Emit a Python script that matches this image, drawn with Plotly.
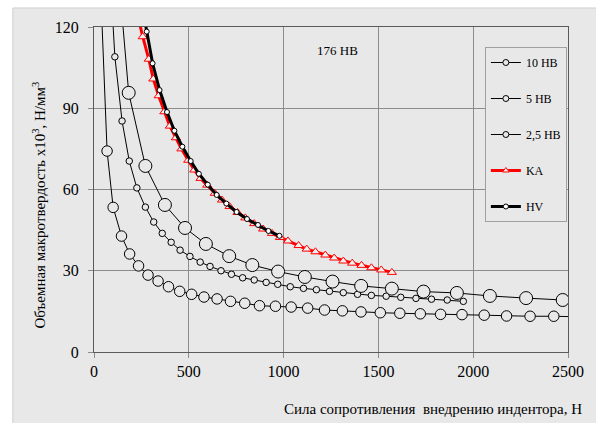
import plotly.graph_objects as go

# ---- data ----
hb10_x = [110, 183, 271, 374, 480, 590, 713, 835, 971, 1112, 1258, 1409, 1571, 1738, 1914, 2088, 2279, 2472]
hb10_y = [155, 95.7, 68.7, 54.3, 45.8, 39.9, 35.4, 32.1, 29.7, 27.7, 26.0, 24.4, 23.4, 22.3, 21.8, 20.7, 19.9, 19.2]

hb5_x = [75, 110, 148, 186, 226, 271, 315, 360, 407, 454, 506, 560, 612, 670, 725, 784, 845, 908, 969,
         1035, 1105, 1173, 1242, 1315, 1390, 1463, 1541, 1618, 1698, 1780, 1863, 1948]
hb5_y = [152, 109.0, 85.3, 70.5, 60.6, 53.5, 48.0, 43.8, 40.5, 37.6, 35.3, 33.2, 31.6, 30.0, 28.7, 27.4,
         26.6, 25.7, 25.0, 24.1, 23.5, 23.0, 22.4, 21.9, 21.3, 20.9, 20.6, 20.2, 19.8, 19.5, 19.2, 18.7]

hb25_x = [35, 69, 101, 145, 188, 235, 285, 338, 393, 452, 515, 580, 649, 720, 795, 873, 957, 1040, 1127,
          1216, 1310, 1408, 1510, 1613, 1721, 1828, 1941, 2058, 2176, 2300, 2425, 2550]
hb25_y = [134, 74.2, 53.4, 42.8, 36.2, 31.8, 28.4, 26.2, 24.1, 22.4, 21.3, 20.3, 19.6, 18.7, 18.0, 17.1,
          16.9, 16.6, 16.2, 15.5, 15.2, 14.8, 14.5, 14.3, 14.1, 13.9, 13.8, 13.6, 13.3, 13.2, 13.2, 13.0]

ka_x = [235, 257, 289, 313, 341, 371, 400, 432, 461, 497, 529, 562, 597, 637, 675, 715, 757, 798, 845,
        892, 939, 981, 1023, 1079, 1122, 1168, 1220, 1267, 1315, 1362, 1411, 1463, 1515, 1571]
ka_y = [123, 116.4, 108.1, 100.8, 94.6, 88.7, 83.4, 79.1, 75.0, 70.8, 67.2, 64.1, 61.6, 58.6, 56.1, 53.7,
        51.5, 49.5, 47.4, 45.4, 43.8, 42.3, 41.0, 39.3, 38.0, 37.0, 35.8, 34.7, 33.6, 32.8, 32.0, 31.1,
        30.3, 29.4]

hv_x = [248, 278, 309, 346, 385, 424, 466, 510, 553, 600, 647, 698, 752, 807, 865, 920, 978]
hv_y = [130, 118.3, 106.6, 96.7, 88.6, 81.7, 75.8, 70.5, 65.8, 61.8, 58.0, 54.8, 51.7, 49.1, 46.9, 44.7, 42.9]

legend_names = ["10 HB", "5 HB", "2,5 HB", "KA", "HV"]
x_ticks = [0, 500, 1000, 1500, 2000, 2500]
y_ticks = [0, 30, 60, 90, 120]

BG = "#e8e8e8"
FONT = "Liberation Serif, Times New Roman, serif"

fig = go.Figure()

# data traces (no legend)
fig.add_trace(go.Scatter(x=hb25_x, y=hb25_y, mode="lines+markers", showlegend=False,
                         line=dict(color="black", width=1),
                         marker=dict(symbol="circle", size=10.5, color=BG, line=dict(color="black", width=1))))
fig.add_trace(go.Scatter(x=hb5_x, y=hb5_y, mode="lines+markers", showlegend=False,
                         line=dict(color="black", width=1),
                         marker=dict(symbol="circle", size=6.5, color=BG, line=dict(color="black", width=1))))
fig.add_trace(go.Scatter(x=hb10_x, y=hb10_y, mode="lines+markers", showlegend=False,
                         line=dict(color="black", width=1),
                         marker=dict(symbol="circle", size=13, color=BG, line=dict(color="black", width=1))))
fig.add_trace(go.Scatter(x=ka_x, y=ka_y, mode="lines+markers", showlegend=False,
                         line=dict(color="#ff0000", width=3),
                         marker=dict(symbol="triangle-up", size=8, color="#f4eeee", line=dict(color="#ff0000", width=1))))
fig.add_trace(go.Scatter(x=hv_x, y=hv_y, mode="lines+markers", showlegend=False,
                         line=dict(color="black", width=3),
                         marker=dict(symbol="circle", size=5, color="white", line=dict(color="black", width=1))))

# legend-only traces
leg_styles = [
    dict(line=dict(color="black", width=1), marker=dict(symbol="circle", size=6, color=BG, line=dict(color="black", width=1))),
    dict(line=dict(color="black", width=1), marker=dict(symbol="circle", size=6, color=BG, line=dict(color="black", width=1))),
    dict(line=dict(color="black", width=1), marker=dict(symbol="circle", size=6, color=BG, line=dict(color="black", width=1))),
    dict(line=dict(color="#ff0000", width=3), marker=dict(symbol="triangle-up", size=6, color="#f4eeee", line=dict(color="#ff0000", width=1))),
    dict(line=dict(color="black", width=3), marker=dict(symbol="circle", size=5, color="white", line=dict(color="black", width=1))),
]
for i, (nm, st) in enumerate(zip(legend_names, leg_styles)):
    fig.add_trace(go.Scatter(x=[None], y=[None], mode="lines+markers", name=nm,
                             legendgroup=f"g{i}", **st))

axis_common = dict(
    showline=True, linecolor="#5a5a5a", linewidth=1, mirror=True,
    showgrid=True, gridcolor="#8c8c8c", gridwidth=1,
    ticks="outside", ticklen=5, tickcolor="#8c8c8c",
    zeroline=False,
    tickfont=dict(family=FONT, size=16, color="black"),
)

fig.update_xaxes(range=[0, 2500], tickvals=x_ticks, ticktext=[str(v) for v in x_ticks], **axis_common)
fig.update_yaxes(range=[0, 120], tickvals=y_ticks, ticktext=[str(v) for v in y_ticks],
                 ticklabelstandoff=6, **axis_common)

# gray chart area with white border strip at top / left
fig.add_shape(type="rect", xref="paper", yref="paper", x0=-0.1712, x1=1.06, y0=-0.23, y1=1.0585,
              line=dict(color="#cfcfcf", width=1), fillcolor=BG, layer="below")

fig.add_annotation(text="176 HB", xref="paper", yref="paper", x=(340 - 94) / 479, y=(352 - 50) / 325,
                   showarrow=False, xanchor="center", yanchor="middle",
                   font=dict(family=FONT, size=13, color="black"))
fig.add_annotation(text="Сила сопротивления  внедрению индентора, Н", xref="paper", yref="paper",
                   x=(589 - 94) / 479, y=(352 - 409) / 325, showarrow=False,
                   xanchor="right", yanchor="middle", font=dict(family=FONT, size=15, color="black"))
fig.add_annotation(text="Объемная макротвердость х10<sup>3</sup>, Н/мм<sup>3</sup>", xref="paper", yref="paper",
                   x=(38 - 94) / 479, y=(352 - 205) / 325, showarrow=False, textangle=-90,
                   xanchor="center", yanchor="middle", font=dict(family=FONT, size=15, color="black"))

fig.update_layout(
    width=596, height=423,
    margin=dict(l=94, r=23, t=27, b=71),
    paper_bgcolor="white", plot_bgcolor=BG,
    font=dict(family=FONT, color="black"),
    legend=dict(x=(489 - 94) / 479, y=(352 - 47) / 325, xanchor="left", yanchor="top",
                bgcolor=BG, bordercolor="#a0a0a0", borderwidth=1,
                font=dict(family=FONT, size=12, color="black"),
                traceorder="grouped", tracegroupgap=17, itemwidth=30),
)

fig.write_html("out.html")
